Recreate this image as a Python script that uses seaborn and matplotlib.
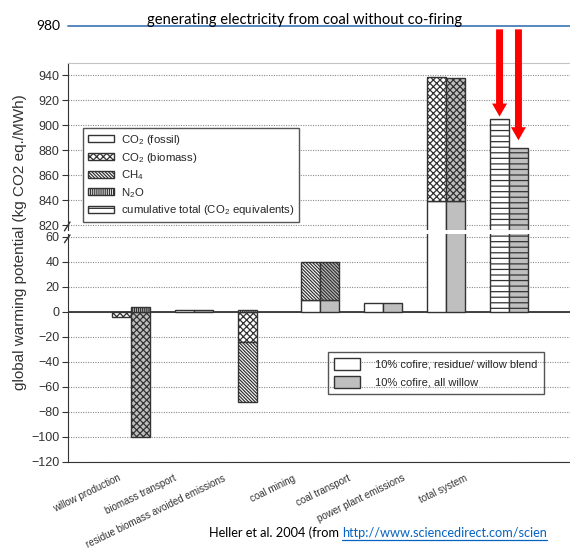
import numpy as np
import pandas as pd
import matplotlib
matplotlib.use("Agg")
import matplotlib.pyplot as plt
from matplotlib.patches import Patch, ArrowStyle
from matplotlib.lines import Line2D
import seaborn as sns

# ---------------------------------------------------------------- data
categories = ["willow production", "biomass transport",
              "residue biomass avoided emissions", "coal mining",
              "coal transport", "power plant emissions", "total system"]
scenarios = ["10% cofire, residue/ willow blend", "10% cofire, all willow"]
components = ["CO$_2$ (fossil)", "CO$_2$ (biomass)", "CH$_4$", "N$_2$O",
              "cumulative total (CO$_2$ equivalents)"]

# kg CO2 eq./MWh, one value per category
blend_co2_fossil = [0, 1, 0, 9, 7, 839, 0]
blend_co2_biomass = [-4.5, 0, -24, 0, 0, 99.5, 0]
blend_ch4 = [0, 0, -48, 31, 0, 0, 0]
blend_n2o = [0, 0, 1.5, 0, 0, 0, 0]
blend_total = [0, 0, 0, 0, 0, 0, 905]

willow_co2_fossil = [0, 1, 0, 9, 7, 839, 0]
willow_co2_biomass = [-100, 0, 0, 0, 0, 99, 0]
willow_ch4 = [0, 0, 0, 31, 0, 0, 0]
willow_n2o = [4, 0, 0, 0, 0, 0, 0]
willow_total = [0, 0, 0, 0, 0, 0, 882]

upper_ticks = [820, 840, 860, 880, 900, 920, 940]
lower_ticks = [-120, -100, -80, -60, -40, -20, 0, 20, 40, 60]
marker_level = 980

# ---------------------------------------------------------------- styling
sns.set_style("white")
plt.rcParams["font.family"] = ["Liberation Sans", "DejaVu Sans"]
plt.rcParams["mathtext.default"] = "regular"
plt.rcParams["hatch.linewidth"] = 0.9

INK = "#333333"
palette = {scenarios[0]: "white", scenarios[1]: "#bfbfbf"}
hatches = ["", "xxxxx", "\\" * 10, "|" * 8, "---"]

# long table with stacked bottoms (positive and negative parts stack apart)
series = {
    scenarios[0]: [blend_co2_fossil, blend_co2_biomass, blend_ch4, blend_n2o, blend_total],
    scenarios[1]: [willow_co2_fossil, willow_co2_biomass, willow_ch4, willow_n2o, willow_total],
}
rows = []
for si, (scen, layers) in enumerate(series.items()):
    for ci, cat in enumerate(categories):
        pos, neg = 0.0, 0.0
        for comp, vals in zip(components, layers):
            v = vals[ci]
            base = pos if v >= 0 else neg
            rows.append((cat, ci, scen, si, comp, v, base))
            if v > 0:
                pos += v
            else:
                neg += v
df = pd.DataFrame(rows, columns=["category", "idx", "scenario", "sidx",
                                 "component", "value", "bottom"])

# ---------------------------------------------------------------- figure
W, H = 570, 550
fig = plt.figure(figsize=(W / 100, H / 100), dpi=100)
ax_top = fig.add_axes([68 / W, 1 - 230 / H, 504 / W, 167 / H])
ax_bot = fig.add_axes([68 / W, 1 - 462 / H, 504 / W, 228 / H])

for ax in (ax_top, ax_bot):
    for comp, hatch in zip(components, hatches):
        layer = df[df.component == comp]
        n_before = len(ax.patches)
        sns.barplot(data=layer, x="category", y="value", hue="scenario",
                    order=categories, hue_order=scenarios, palette=palette,
                    dodge=True, width=0.6, saturation=1, errorbar=None,
                    legend=False, ax=ax, hatch=hatch, edgecolor=INK,
                    linewidth=1.0, zorder=2)
        # seaborn draws one hue level after the other, categories in order:
        # lift each segment onto its stack
        ordered = layer.sort_values(["sidx", "idx"])
        for patch, (_, row) in zip(ax.patches[n_before:], ordered.iterrows()):
            patch.set_y(row["bottom"])
            if row["value"] == 0:
                patch.set_visible(False)
    ax.set_xlim(-1, 7)
    ax.set_xlabel("")
    ax.set_ylabel("")
    ax.set_axisbelow(True)
    ax.yaxis.grid(True, linestyle=(0, (1, 1.2)), color="#8c8c8c", linewidth=0.8)
    ax.xaxis.grid(False)
    ax.tick_params(axis="y", length=4, width=0.8, color=INK, labelsize=9,
                   labelcolor=INK, pad=2, left=True)
    ax.spines["left"].set_color(INK)
    ax.spines["right"].set_visible(False)

ax_top.set_ylim(816, 950)
ax_top.set_yticks(upper_ticks)
ax_top.set_xticks([])
ax_top.spines["bottom"].set_visible(False)
ax_top.spines["top"].set_color("#c4c4c4")

ax_bot.set_ylim(-120, 62)
ax_bot.set_yticks(lower_ticks)
ax_bot.spines["top"].set_visible(False)
ax_bot.spines["bottom"].set_color(INK)
ax_bot.axhline(0, color=INK, linewidth=1.3, zorder=1.5)

# category labels (slanted)
label_pos = [-0.21, 0.67, 1.46, 2.56, 3.44, 4.30, 5.30]
ax_bot.set_xticks(label_pos)
ax_bot.set_xticklabels(categories, rotation=26, ha="right", va="top",
                       rotation_mode="anchor", fontsize=7, color=INK)
ax_bot.tick_params(axis="x", length=0, pad=8)

# axis break marks
brk = dict(color=INK, linewidth=1.0, clip_on=False)
ax_top.plot([-0.007, 0.004], [-0.005, 0.048], transform=ax_top.transAxes, **brk)
ax_bot.plot([-0.007, 0.004], [0.962, 0.996], transform=ax_bot.transAxes, **brk)

# y label
fig.text(20 / W, 1 - 242 / H, "global warming potential (kg CO2 eq./MWh)",
         rotation=90, ha="center", va="center", fontsize=11, color=INK)

# legends
comp_handles = [Patch(facecolor="white", edgecolor=INK, hatch=h, label=c)
                for c, h in zip(components, hatches)]
leg1 = ax_top.legend(handles=comp_handles, loc="lower left",
                     bbox_to_anchor=(0.03, 0.048), borderaxespad=0, fontsize=8.2,
                     frameon=True, fancybox=False, edgecolor="#555555",
                     framealpha=1, handlelength=2.3, handleheight=0.55,
                     labelspacing=0.33, borderpad=0.4, handletextpad=0.6)
leg1.get_frame().set_linewidth(1.0)
leg1.set_zorder(5)

scen_handles = [Patch(facecolor=palette[s], edgecolor=INK, label=s) for s in scenarios]
leg2 = ax_bot.legend(handles=scen_handles, loc="lower left",
                     bbox_to_anchor=(0.516, 0.298), borderaxespad=0, fontsize=8,
                     frameon=True, fancybox=False, edgecolor="#555555",
                     facecolor="none", framealpha=1, handlelength=2.3,
                     handleheight=1.3, labelspacing=0.5, borderpad=0.55,
                     handletextpad=1.4)
leg2.get_frame().set_linewidth(1.0)

# reference level line and its value
ax_top.axhline(marker_level, color="#4a7ebb", linewidth=1.3, clip_on=False)
ax_top.text(-0.016, marker_level, f"{marker_level}", transform=ax_top.get_yaxis_transform(),
            ha="right", va="center", fontsize=10, family="Lato", color="black")
fig.text(147 / W, 1 - 24 / H, "generating electricity from coal without co-firing",
         ha="left", va="baseline", fontsize=10.6, family="Lato", color="black")

# red arrows onto the two system totals
arrow_style = ArrowStyle.Simple(head_length=0.94, head_width=1.08, tail_width=0.5)
totals = [blend_total[-1], willow_total[-1]]
for k, (tot, gap) in enumerate(zip(totals, [2, 6])):
    xpos = len(categories) - 1 + (k - 0.5) * 0.3
    ax_top.annotate("", xy=(xpos, tot + gap), xytext=(xpos, 977),
                    arrowprops=dict(arrowstyle=arrow_style, mutation_scale=10,
                                    color="red", shrinkA=0, shrinkB=0, lw=0),
                    annotation_clip=False, zorder=6)

# source line with link
t1 = fig.text(209 / W, 1 - 537 / H, "Heller et al. 2004 (from ", ha="left",
              va="baseline", fontsize=9.2, family="Lato", color="black")
fig.canvas.draw()
r = fig.canvas.get_renderer()
bb = t1.get_window_extent(r)
link = "http://www.sciencedirect.com/scien"
t2 = fig.text(bb.x1 / W, 1 - 537 / H, link, ha="left", va="baseline",
              fontsize=9.2, family="Lato", color="#0563c1")
bb2 = t2.get_window_extent(r)
fig.add_artist(Line2D([bb2.x0 / W, bb2.x1 / W], [1 - 539.5 / H, 1 - 539.5 / H],
                      transform=fig.transFigure, color="#0563c1", linewidth=0.9))

fig.savefig("out.png", dpi=100)
